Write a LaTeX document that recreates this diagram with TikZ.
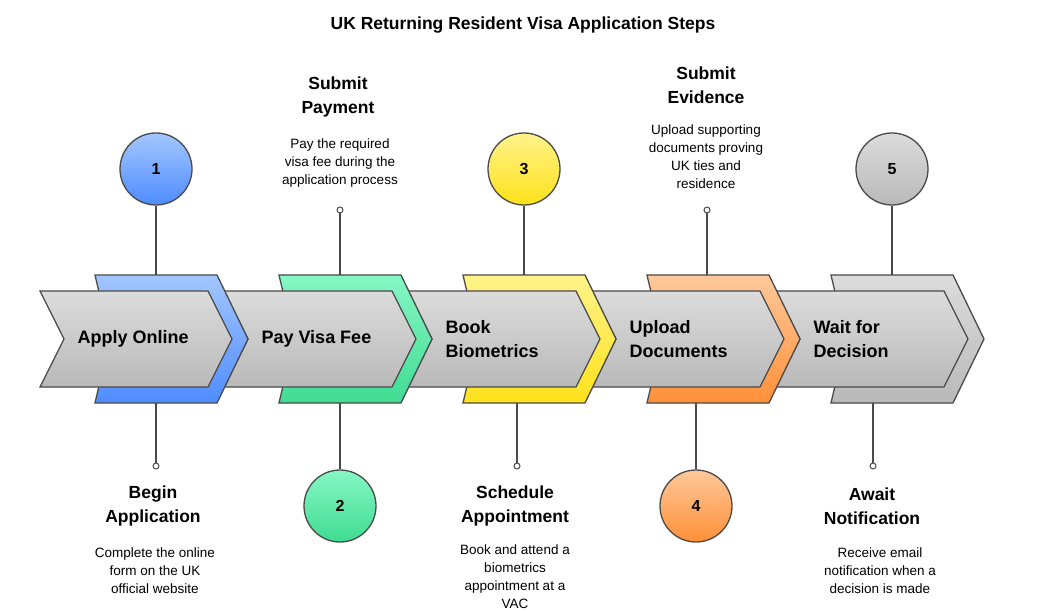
\documentclass[tikz,border=0pt]{standalone}
\usepackage{fontspec}
\setmainfont{Liberation Sans}
\usetikzlibrary{positioning}
\definecolor{edge}{HTML}{4A4A4A}
\definecolor{bluetop}{HTML}{A3C6FF}\definecolor{bluebot}{HTML}{4F8CFF}
\definecolor{greentop}{HTML}{86F7C4}\definecolor{greenbot}{HTML}{40DC92}
\definecolor{yellowtop}{HTML}{FFF38A}\definecolor{yellowbot}{HTML}{FFE21A}
\definecolor{orangetop}{HTML}{FFC89A}\definecolor{orangebot}{HTML}{FF9038}
\definecolor{graytop}{HTML}{DCDCDC}\definecolor{graybot}{HTML}{B9B9B9}
\tikzset{
  step/.style={draw=edge,line width=1.3pt,top color=#1top,bottom color=#1bot},
  num/.style={circle,minimum size=72pt,draw=edge,line width=1.3pt,top color=#1top,bottom color=#1bot,font=\bfseries\fontsize{16}{19}\selectfont},
  label/.style={font=\bfseries\fontsize{18}{24}\selectfont,align=left,anchor=west},
  head/.style={font=\bfseries\fontsize{17.5}{24}\selectfont,align=center},
  desc/.style={font=\fontsize{13.5}{18}\selectfont,align=center},
  dot/.style={circle,draw=edge,line width=1pt,fill=white,inner sep=0pt,minimum size=6pt},
  link/.style={draw=edge,line width=1.3pt}
}
\begin{document}
\begin{tikzpicture}[x=1pt,y=-1pt]
\useasboundingbox[fill=white] (0,0) rectangle (1047,612);
\node[font=\bfseries\fontsize{17.5}{20}\selectfont] (title) at (523,25) {UK Returning Resident Visa Application Steps};

% chevrons, back to front
\foreach \i/\c in {5/gray,4/orange,3/yellow,2/green,1/blue}{
  \pgfmathsetmacro{\dx}{(\i-1)*184}
  \begin{scope}[xshift=\dx]
    \draw[step=\c] (95,275) -- (217,275) -- (248,339) -- (217,403) -- (95,403) -- (110,339) -- cycle;
    \coordinate (top\i) at (156,275);
    \coordinate (bot\i) at (156,403);
    \draw[step=gray] (40,291) -- (208,291) -- (232,339) -- (208,387) -- (40,387) -- (64,339) -- cycle;
  \end{scope}
}
\node[label] (l1) at (74,339) {Apply Online};
\node[label] (l2) at (258,339) {Pay Visa Fee};
\node[label] (l3) at (442,339) {Book\\Biometrics};
\node[label] (l4) at (626,339) {Upload\\Documents};
\node[label] (l5) at (810,339) {Wait for\\Decision};

% step 1
\node[num=blue] (n1) at (156,169) {1};
\draw[link] (top1) -- (n1);
\node[dot] (d1) at (156,466) {};
\draw[link] (bot1) -- (d1);
\node[head] (h1) at (153,506) {Begin\\Application};
\node[desc] (t1) at (155,571) {Complete the online\\form on the UK\\official website};
% step 2
\node[num=green] (n2) at (340,506) {2};
\draw[link] (bot2) -- (n2);
\node[dot] (d2) at (340,210) {};
\draw[link] (top2) -- (d2);
\node[head] (h2) at (338,97) {Submit\\Payment};
\node[desc] (t2) at (340,163) {Pay the required\\visa fee during the\\application process};
% step 3
\node[num=yellow] (n3) at (524,169) {3};
\draw[link] (top3) -- (n3);
\node[dot] (d3) at (517,466) {};
\draw[link] (bot3 -| d3) -- (d3);
\node[head] (h3) at (515,506) {Schedule\\Appointment};
\node[desc] (t3) at (515,577) {Book and attend a\\biometrics\\appointment at a\\VAC};
% step 4
\node[num=orange] (n4) at (696,506) {4};
\draw[link] (bot4 -| n4) -- (n4);
\node[dot] (d4) at (707,210) {};
\draw[link] (top4 -| d4) -- (d4);
\node[head] (h4) at (706,85) {Submit\\Evidence};
\node[desc] (t4) at (706,157) {Upload supporting\\documents proving\\UK ties and\\residence};
% step 5
\node[num=gray] (n5) at (892,169) {5};
\draw[link] (top5 -| n5) -- (n5);
\node[dot] (d5) at (873,466) {};
\draw[link] (bot5 -| d5) -- (d5);
\node[head] (h5) at (872,506) {Await\\Notification};
\node[desc] (t5) at (880,571) {Receive email\\notification when a\\decision is made};
\end{tikzpicture}
\end{document}
